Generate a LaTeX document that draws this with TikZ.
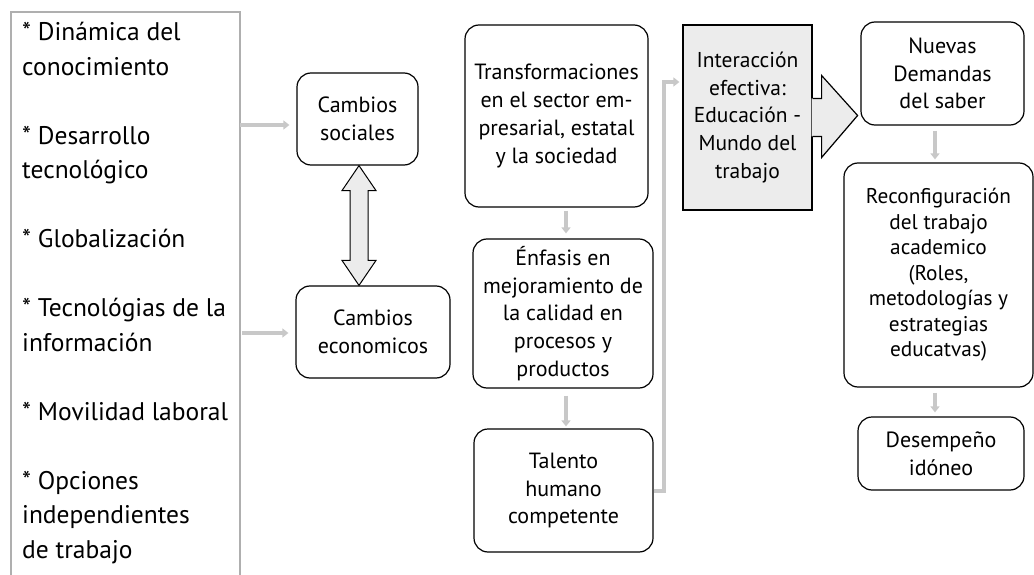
\documentclass[tikz,border=0pt]{standalone}
\usepackage{fontspec}
\setmainfont{PT Sans}
\usetikzlibrary{arrows.meta,calc}
\definecolor{conn}{RGB}{200,200,200}
\definecolor{framegray}{RGB}{175,175,175}
\definecolor{fillg}{RGB}{236,236,236}
\begin{document}
\begin{tikzpicture}[x=1pt,y=-1pt,
  box/.style={draw=black,line width=1.2pt,rounded corners=14pt,align=center,inner sep=0pt,
    font=\fontsize{22}{27.7}\selectfont},
  sqbox/.style={draw=black,line width=1.2pt,fill=fillg,align=center,inner sep=0pt,
    font=\fontsize{21.5}{27.7}\selectfont},
  factor/.style={inner sep=0pt,anchor=base west,font=\fontsize{25.5}{27}\selectfont},
  garrow/.style={draw=conn,line width=4pt,-{Triangle[length=6pt,width=9pt]}},
  dblarrow/.style={draw=black,line width=1pt,fill=fillg,line join=miter},
]
\useasboundingbox (0,0) rectangle (1034,575);

% left frame
\draw[framegray,line width=1.3pt] (11,577) -- (11,12) -- (240,12) -- (240,577);
\foreach \k/\t in {0/{* Dinámica del},1/{conocimiento},3/{* Desarrollo},4/{tecnológico},
  6/{* Globalización},8/{* Tecnológias de la},9/{información},11/{* Movilidad laboral},
  13/{* Opciones},14/{independientes},15/{de trabajo}}
  \node[factor] (f\k) at (22,41+\k*34.47) {\t};

% boxes
\node[box,minimum width=121pt,minimum height=92pt] (soc) at (357.5,119) {Cambios\\sociales};
\node[box,minimum width=154pt,minimum height=92pt] (eco) at (373,332) {Cambios\\economicos};
\node[box,minimum width=183pt,minimum height=182pt] (trans) at (556.5,116) {Transformaciones\\en el sector em-\\presarial, estatal\\y la sociedad};
\node[box,minimum width=180pt,minimum height=149pt] (enf) at (563,313.5) {Énfasis en\\mejoramiento de\\la calidad en\\procesos y\\productos};
\node[box,minimum width=179pt,minimum height=123pt] (tal) at (563.5,490.5) {Talento\\humano\\competente};
\node[sqbox,minimum width=129pt,minimum height=185pt] (inter) at (747.5,117.5) {Interacción\\efectiva:\\Educación -\\Mundo del\\trabajo};
\node[box,minimum width=163pt,minimum height=103pt] (nue) at (942.5,73.5) {Nuevas\\Demandas\\del saber};
\node[box,minimum width=189pt,minimum height=224pt,font=\fontsize{21.3}{25.5}\selectfont] (rec) at (938.5,275) {Reconfiguración\\del trabajo\\academico\\(Roles,\\metodologías y\\estrategias\\educatvas)};
\node[box,minimum width=166pt,minimum height=73pt] (des) at (941,453.5) {Desempeño\\idóneo};

% block arrow out of the interaction box
\path[fill=fillg] ($(inter.east)+(-1,-19)$) -- ++(10,0) -- ++(0,-23) -- ($(inter.east)+(45,-2)$)
  -- ($(inter.east)+(9,40)$) -- ++(0,-21) -- ++(-10,0) -- cycle;
\draw[line width=1.2pt,line join=miter] ($(inter.east)+(0,-19)$) -- ++(9,0) -- ++(0,-23) -- ($(inter.east)+(45,-2)$)
  -- ($(inter.east)+(9,40)$) -- ++(0,-21) -- ++(-9,0);

% double arrow between social and economic changes
\coordinate (dt) at (soc.south -| 359,0);
\coordinate (db) at (eco.north -| 359,0);
\draw[dblarrow] (dt) -- ++(17,25) -- ++(-8,0) -- ($(db)+(9,-25)$) -- ++(8,0) -- (db)
  -- ++(-17,-25) -- ++(8,0) -- ($(dt)+(-9,25)$) -- ++(-8,0) -- cycle;

% gray connectors
\coordinate (s1) at (240,125);
\coordinate (s2) at (242,333);
\draw[garrow,shorten >=7pt] (s1) -- (s1 -| soc.west);
\draw[garrow,shorten >=7pt] (s2) -- (s2 -| eco.west);
\draw[garrow,shorten <=3pt,shorten >=5pt] ([xshift=9.5pt]trans.south) -- ([xshift=9.5pt]trans.south |- enf.north);
\draw[garrow,shorten <=7pt,shorten >=2pt] ([xshift=3pt]enf.south) -- ([xshift=3pt]enf.south |- tal.north);
\draw[garrow,shorten >=3pt] (tal.east) -- ++(10,0) |- ([yshift=35.5pt]inter.west);
\draw[garrow,shorten <=5pt,shorten >=3pt] ([xshift=-7.5pt]nue.south) -- ([xshift=-7.5pt]nue.south |- rec.north);
\draw[garrow,shorten <=5pt,shorten >=4pt] ([xshift=-3.5pt]rec.south) -- ([xshift=-3.5pt]rec.south |- des.north);
\end{tikzpicture}
\end{document}
